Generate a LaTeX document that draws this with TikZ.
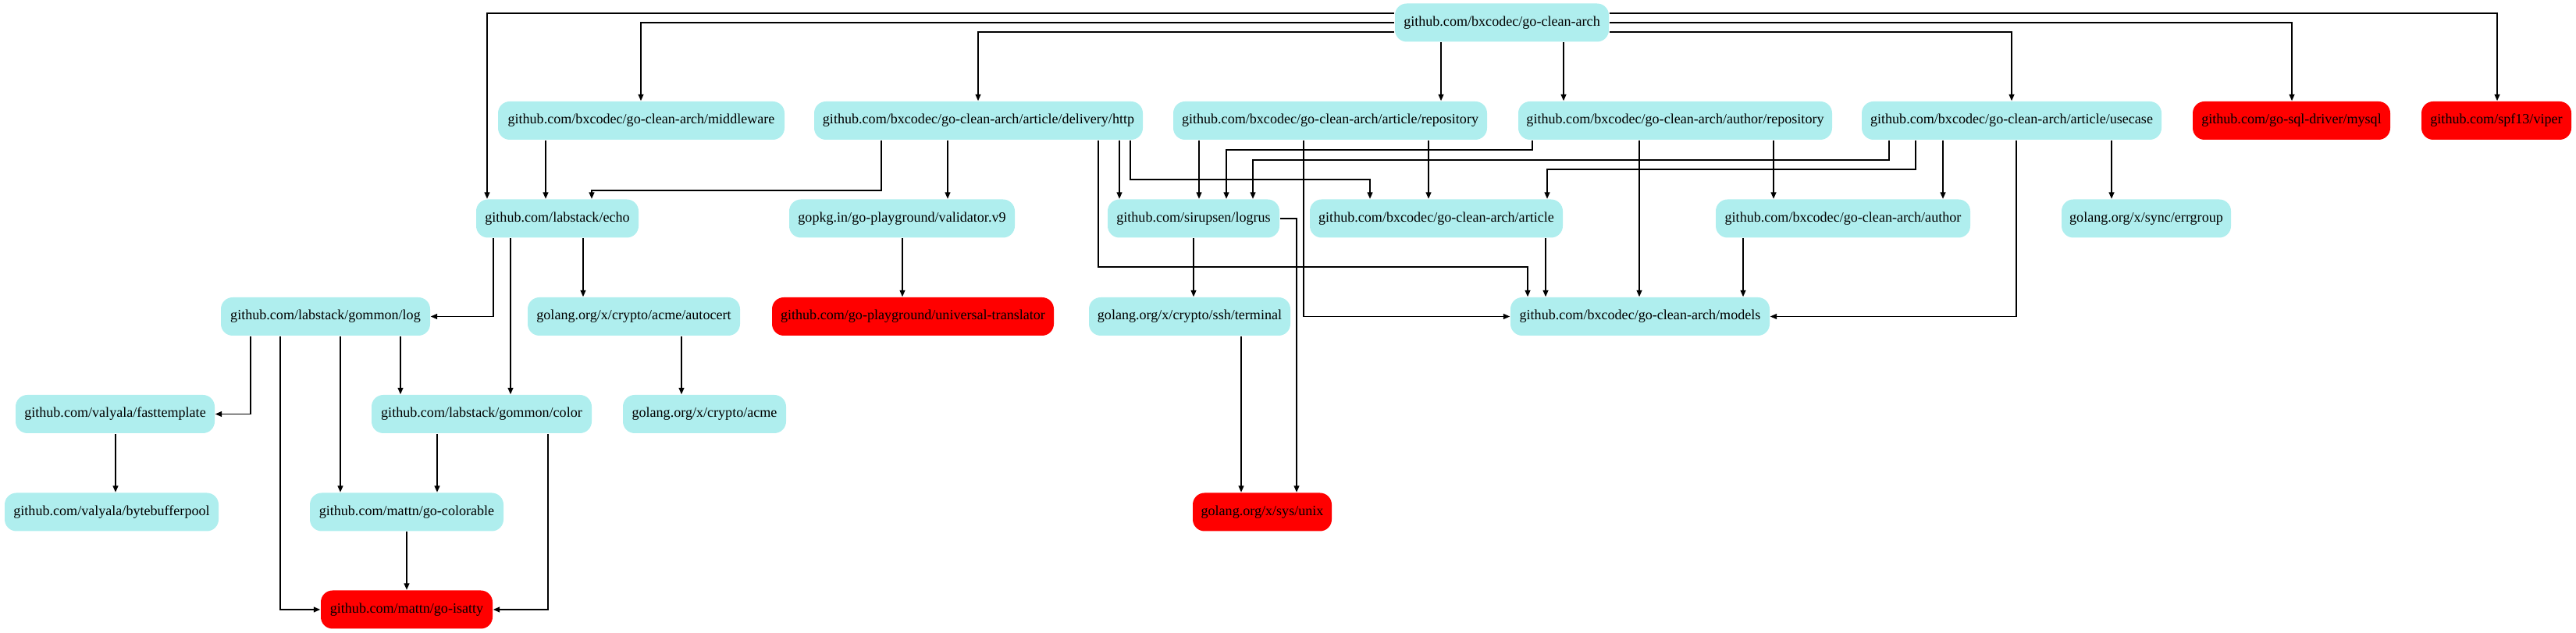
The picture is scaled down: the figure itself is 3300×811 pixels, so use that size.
\documentclass[tikz,border=0pt]{standalone}
\usepackage{fontspec}
\setmainfont{Liberation Serif}
\usetikzlibrary{arrows.meta,calc}
\definecolor{pkgcyan}{HTML}{AFEEEE}
\definecolor{pkgred}{HTML}{FF0000}
\begin{document}
\begin{tikzpicture}[x=0.25pt,y=-0.25pt,
  pkg/.style={rounded corners=3.75pt, fill=pkgcyan, minimum height=12.25pt, inner sep=0pt,
    font=\fontsize{4.52}{5.4}\selectfont},
  ext/.style={pkg, fill=pkgred},
  e/.style={-{Triangle[length=2.1pt,width=1.75pt]}, line width=0.32pt}]
\useasboundingbox (0,0) rectangle (3300,811);
% row 0
\node[pkg,minimum width=68.5pt] (root) at (1924,29) {github.com/bxcodec/go-clean-arch};
% row 1
\node[pkg,minimum width=91.75pt] (middleware) at (821.5,154.5) {github.com/bxcodec/go-clean-arch/middleware};
\node[pkg,minimum width=105.25pt] (delivery) at (1253.5,154.5) {github.com/bxcodec/go-clean-arch/article/delivery/http};
\node[pkg,minimum width=100.5pt] (artrepo) at (1704,154.5) {github.com/bxcodec/go-clean-arch/article/repository};
\node[pkg,minimum width=100.5pt] (authrepo) at (2146,154.5) {github.com/bxcodec/go-clean-arch/author/repository};
\node[pkg,minimum width=96pt] (usecase) at (2577,154.5) {github.com/bxcodec/go-clean-arch/article/usecase};
\node[ext,minimum width=63.25pt] (mysql) at (2935.5,154.5) {github.com/go-sql-driver/mysql};
\node[ext,minimum width=48pt] (viper) at (3198,154.5) {github.com/spf13/viper};
% row 2
\node[pkg,minimum width=52pt] (echo) at (714,280) {github.com/labstack/echo};
\node[pkg,minimum width=72.25pt] (validator) at (1155.5,280) {gopkg.in/go-playground/validator.v9};
\node[pkg,minimum width=55pt] (logrus) at (1529,280) {github.com/sirupsen/logrus};
\node[pkg,minimum width=81pt] (article) at (1840,280) {github.com/bxcodec/go-clean-arch/article};
\node[pkg,minimum width=81.5pt] (author) at (2361,280) {github.com/bxcodec/go-clean-arch/author};
\node[pkg,minimum width=54.25pt] (errgroup) at (2749.5,280) {golang.org/x/sync/errgroup};
% row 3
\node[pkg,minimum width=67pt] (log) at (417,405.5) {github.com/labstack/gommon/log};
\node[pkg,minimum width=68pt] (autocert) at (812,405.5) {golang.org/x/crypto/acme/autocert};
\node[ext,minimum width=90.25pt] (translator) at (1169.5,405.5) {github.com/go-playground/universal-translator};
\node[pkg,minimum width=64.5pt] (terminal) at (1524,405.5) {golang.org/x/crypto/ssh/terminal};
\node[pkg,minimum width=83pt] (models) at (2101,405.5) {github.com/bxcodec/go-clean-arch/models};
% row 4
\node[pkg,minimum width=63.75pt] (fasttemplate) at (147.5,530.5) {github.com/valyala/fasttemplate};
\node[pkg,minimum width=70.5pt] (color) at (617,530.5) {github.com/labstack/gommon/color};
\node[pkg,minimum width=52.25pt] (acme) at (902.5,530.5) {golang.org/x/crypto/acme};
% row 5
\node[pkg,minimum width=68.5pt] (bytebufferpool) at (143,656) {github.com/valyala/bytebufferpool};
\node[pkg,minimum width=62pt] (colorable) at (521,656) {github.com/mattn/go-colorable};
\node[ext,minimum width=44.5pt] (unix) at (1617,656) {golang.org/x/sys/unix};
% row 6
\node[ext,minimum width=55pt] (isatty) at (521,781) {github.com/mattn/go-isatty};

% edges from root
\draw[e] (root.west |- 0,17) -| (echo.north -| 624,0);
\draw[e] (root.west |- 0,29) -| (middleware.north -| 821,0);
\draw[e] (root.west |- 0,41) -| (delivery.north -| 1253,0);
\draw[e] (root.south -| 1846,0) -- (artrepo.north -| 1846,0);
\draw[e] (root.south -| 2003,0) -- (authrepo.north -| 2003,0);
\draw[e] (root.east |- 0,41) -| (usecase.north -| 2577,0);
\draw[e] (root.east |- 0,29) -| (mysql.north -| 2936,0);
\draw[e] (root.east |- 0,17) -| (viper.north -| 3199,0);
% middleware
\draw[e] (middleware.south -| 699,0) -- (echo.north -| 699,0);
% delivery
\draw[e] (delivery.south -| 1129,0) -- (1129,244) -| (echo.north -| 758,0);
\draw[e] (delivery.south -| 1214,0) -- (validator.north -| 1214,0);
\draw[e] (delivery.south -| 1407,0) -- (1407,342) -| (models.north -| 1957,0);
\draw[e] (delivery.south -| 1434,0) -- (logrus.north -| 1434,0);
\draw[e] (delivery.south -| 1448,0) -- (1448,230) -| (article.north -| 1755,0);
% article repository
\draw[e] (artrepo.south -| 1536,0) -- (logrus.north -| 1536,0);
\draw[e] (artrepo.south -| 1670,0) |- (models.west);
\draw[e] (artrepo.south -| 1830,0) -- (article.north -| 1830,0);
% author repository
\draw[e] (authrepo.south -| 1963,0) -- (1963,192) -| (logrus.north -| 1571,0);
\draw[e] (authrepo.south -| 2100,0) -- (models.north -| 2100,0);
\draw[e] (authrepo.south -| 2272,0) -- (author.north -| 2272,0);
% usecase
\draw[e] (usecase.south -| 2420,0) -- (2420,205) -| (logrus.north -| 1605,0);
\draw[e] (usecase.south -| 2454,0) -- (2454,217) -| (article.north -| 1982,0);
\draw[e] (usecase.south -| 2489,0) -- (author.north -| 2489,0);
\draw[e] (usecase.south -| 2583,0) |- (models.east);
\draw[e] (usecase.south -| 2705,0) -- (errgroup.north -| 2705,0);
% echo
\draw[e] (echo.south -| 632,0) |- (log.east);
\draw[e] (echo.south -| 654,0) -- (color.north -| 654,0);
\draw[e] (echo.south -| 747,0) -- (autocert.north -| 747,0);
% row 2 others
\draw[e] (validator.south -| 1156,0) -- (translator.north -| 1156,0);
\draw[e] (logrus.south -| 1529,0) -- (terminal.north -| 1529,0);
\draw[e] (logrus.east) -| (unix.north -| 1661,0);
\draw[e] (article.south -| 1980,0) -- (models.north -| 1980,0);
\draw[e] (author.south -| 2233,0) -- (models.north -| 2233,0);
% log
\draw[e] (log.south -| 321,0) |- (fasttemplate.east);
\draw[e] (log.south -| 359,0) |- (isatty.west);
\draw[e] (log.south -| 436,0) -- (colorable.north -| 436,0);
\draw[e] (log.south -| 513,0) -- (color.north -| 513,0);
% others
\draw[e] (autocert.south -| 873,0) -- (acme.north -| 873,0);
\draw[e] (fasttemplate.south -| 148,0) -- (bytebufferpool.north -| 148,0);
\draw[e] (color.south -| 560,0) -- (colorable.north -| 560,0);
\draw[e] (color.south -| 702,0) |- (isatty.east);
\draw[e] (colorable.south -| 521,0) -- (isatty.north -| 521,0);
\draw[e] (terminal.south -| 1590,0) -- (unix.north -| 1590,0);
\end{tikzpicture}
\end{document}
